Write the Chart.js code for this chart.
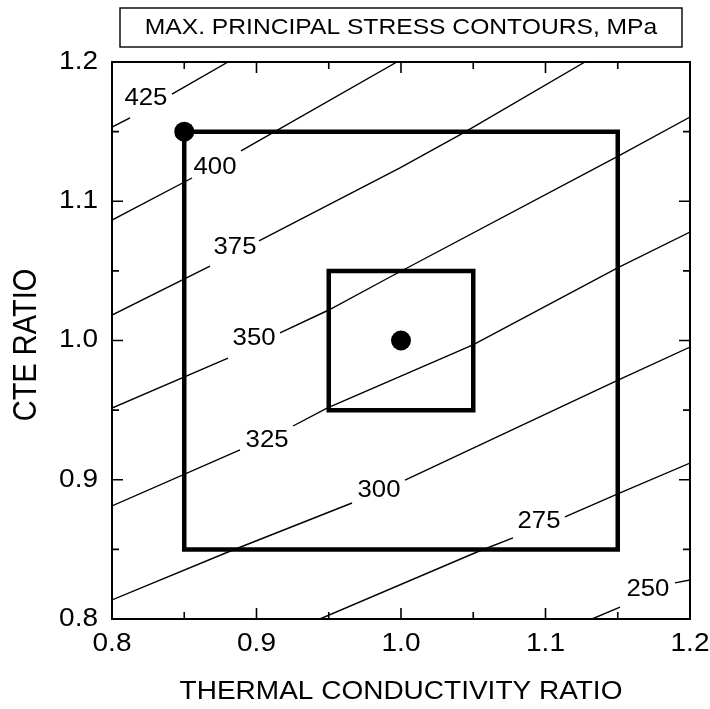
<!DOCTYPE html>
<html>
<head>
<meta charset="utf-8">
<script src="https://cdn.jsdelivr.net/npm/chart.js@4.4.0/dist/chart.umd.min.js"></script>
<style>
  html, body { margin: 0; padding: 0; background: #fff; }
  #wrap { width: 710px; height: 709px; }
</style>
</head>
<body>
<div id="wrap"><canvas id="stressChart" width="710" height="709"></canvas></div>
<script>
// axis ticks
const xTicks = [0.8, 0.9, 1.0, 1.1, 1.2];
const yTicks = [0.8, 0.9, 1.0, 1.1, 1.2];
const xMinorTicks = [0.85, 0.95, 1.05, 1.15];
const yMinorTicks = [0.85, 0.95, 1.05, 1.15];

// contour lines (null = break for the label)
const x425 = [0.800, 0.8125, null, 0.8415, 0.8803];
const y425 = [1.1533, 1.1598, null, 1.1770, 1.200];
const x400 = [0.800, 0.8554, null, 0.8893, 0.9972];
const y400 = [1.0865, 1.1167, null, 1.1361, 1.200];
const x375 = [0.800, 0.8678, null, 0.9017, 0.9993, 1.0429, 1.1273];
const y375 = [1.0183, 1.0535, null, 1.0715, 1.1239, 1.149, 1.200];
const x350 = [0.800, 0.8803, null, 0.9163, 0.950, 0.9924, 1.1516, 1.200];
const y350 = [0.9515, 0.9874, null, 1.0054, 1.0219, 1.0456, 1.1332, 1.1605];
const x325 = [0.800, 0.8886, null, 0.9253, 0.9488, 1.0498, 1.1502, 1.200];
const y325 = [0.8812, 0.9214, null, 0.9386, 0.9515, 0.9968, 1.0524, 1.0779];
const x300 = [0.800, 0.8803, 0.9661, null, 1.0028, 1.1502, 1.200];
const y300 = [0.8137, 0.8481, 0.8833, null, 0.8998, 0.9716, 0.9953];
const x275 = [0.9439, 1.0526, 1.0775, null, 1.1135, 1.1516, 1.200];
const y275 = [0.800, 0.8481, 0.8582, null, 0.8733, 0.8905, 0.912];
const x250 = [1.1322, 1.1516, null, 1.1896, 1.200];
const y250 = [0.800, 0.8086, null, 0.8259, 0.828];

const contourLevels = [425, 400, 375, 350, 325, 300, 275, 250];
const contourXs = [x425, x400, x375, x350, x325, x300, x275, x250];
const contourYs = [y425, y400, y375, y350, y325, y300, y275, y250];
const labelX = [0.8235, 0.8713, 0.8851, 0.8983, 0.9073, 0.9848, 1.0955, 1.1709];
const labelY = [1.174, 1.1239, 1.0664, 1.0011, 0.9278, 0.8919, 0.8697, 0.8208];

// tolerance boxes and their reference points
const outerBox = [0.85, 1.15];
const innerBox = [0.95, 1.05];
const markX = [0.85, 1.0];
const markY = [1.15, 1.0];

const FONT = '"Liberation Sans", Arial, sans-serif';
const STRETCH = 1.12;

function drawText(ctx, text, x, y, size, align, vertical) {
    ctx.save();
    ctx.translate(x, y);
    ctx.scale(STRETCH, 1);
    if (vertical) ctx.rotate(-Math.PI / 2);
    ctx.font = size + 'px ' + FONT;
    ctx.textAlign = align || 'center';
    ctx.textBaseline = 'middle';
    ctx.fillStyle = '#000';
    ctx.fillText(text, 0, 0);
    ctx.restore();
}

function boxPoints(lim) {
    return [
        { x: lim[0], y: lim[0] },
        { x: lim[0], y: lim[1] },
        { x: lim[1], y: lim[1] },
        { x: lim[1], y: lim[0] },
        { x: lim[0], y: lim[0] }
    ];
}

const contourSets = contourLevels.map((lvl, i) => ({
    label: String(lvl),
    data: contourXs[i].map((x, j) => x === null
        ? { x: labelX[i], y: null }
        : { x: x, y: contourYs[i][j] }),
    showLine: true,
    borderColor: '#000',
    borderWidth: 1.4,
    pointRadius: 0,
    tension: 0
}));

const boxSets = [outerBox, innerBox].map(lim => ({
    data: boxPoints(lim),
    showLine: true,
    borderColor: '#000',
    borderWidth: 4.5,
    borderCapStyle: 'square',
    borderJoinStyle: 'miter',
    pointRadius: 0,
    tension: 0
}));

const markSet = {
    data: markX.map((x, i) => ({ x: x, y: markY[i] })),
    showLine: false,
    pointRadius: 10,
    pointBackgroundColor: '#000',
    pointBorderWidth: 0
};

// frame, inside ticks and all the text
const decorations = {
    id: 'decorations',
    afterDraw(chart) {
        const ctx = chart.ctx;
        const area = chart.chartArea;
        const xs = chart.scales.x;
        const ys = chart.scales.y;

        ctx.save();
        ctx.strokeStyle = '#000';
        ctx.lineWidth = 2;
        ctx.strokeRect(area.left, area.top, area.right - area.left, area.bottom - area.top);

        ctx.lineWidth = 1.6;
        const tick = (vals, len) => {
            vals.forEach(v => {
                if (v <= xs.min || v >= xs.max) return;
                const px = xs.getPixelForValue(v);
                ctx.beginPath();
                ctx.moveTo(px, area.bottom); ctx.lineTo(px, area.bottom - len);
                ctx.moveTo(px, area.top); ctx.lineTo(px, area.top + len);
                ctx.stroke();
            });
        };
        const tickY = (vals, len) => {
            vals.forEach(v => {
                if (v <= ys.min || v >= ys.max) return;
                const py = ys.getPixelForValue(v);
                ctx.beginPath();
                ctx.moveTo(area.left, py); ctx.lineTo(area.left + len, py);
                ctx.moveTo(area.right, py); ctx.lineTo(area.right - len, py);
                ctx.stroke();
            });
        };
        tick(xTicks, 11);
        tick(xMinorTicks, 7);
        tickY(yTicks, 11);
        tickY(yMinorTicks, 7);

        // title box
        ctx.lineWidth = 1.4;
        ctx.strokeRect(120, 8, 562, 39);
        ctx.restore();

        drawText(ctx, 'MAX. PRINCIPAL STRESS CONTOURS, MPa', 401, 28, 22);

        xTicks.forEach(v => drawText(ctx, v.toFixed(1), xs.getPixelForValue(v), 644, 25));
        yTicks.forEach(v => drawText(ctx, v.toFixed(1), 98, ys.getPixelForValue(v), 25, 'right'));

        drawText(ctx, 'THERMAL CONDUCTIVITY RATIO', (area.left + area.right) / 2, 692, 25);
        drawText(ctx, 'CTE RATIO', 27, 345, 29, 'center', true);

        contourLevels.forEach((lvl, i) => {
            drawText(ctx, String(lvl), xs.getPixelForValue(labelX[i]), ys.getPixelForValue(labelY[i]), 23);
        });
    }
};

new Chart(document.getElementById('stressChart'), {
    type: 'scatter',
    data: { datasets: [...contourSets, ...boxSets, markSet] },
    options: {
        responsive: false,
        animation: false,
        layout: { padding: { left: 112, right: 20, top: 62, bottom: 90 } },
        plugins: { legend: { display: false }, tooltip: { enabled: false } },
        scales: {
            x: { type: 'linear', min: 0.8, max: 1.2, display: false },
            y: { type: 'linear', min: 0.8, max: 1.2, display: false }
        }
    },
    plugins: [decorations]
});
</script>
</body>
</html>
